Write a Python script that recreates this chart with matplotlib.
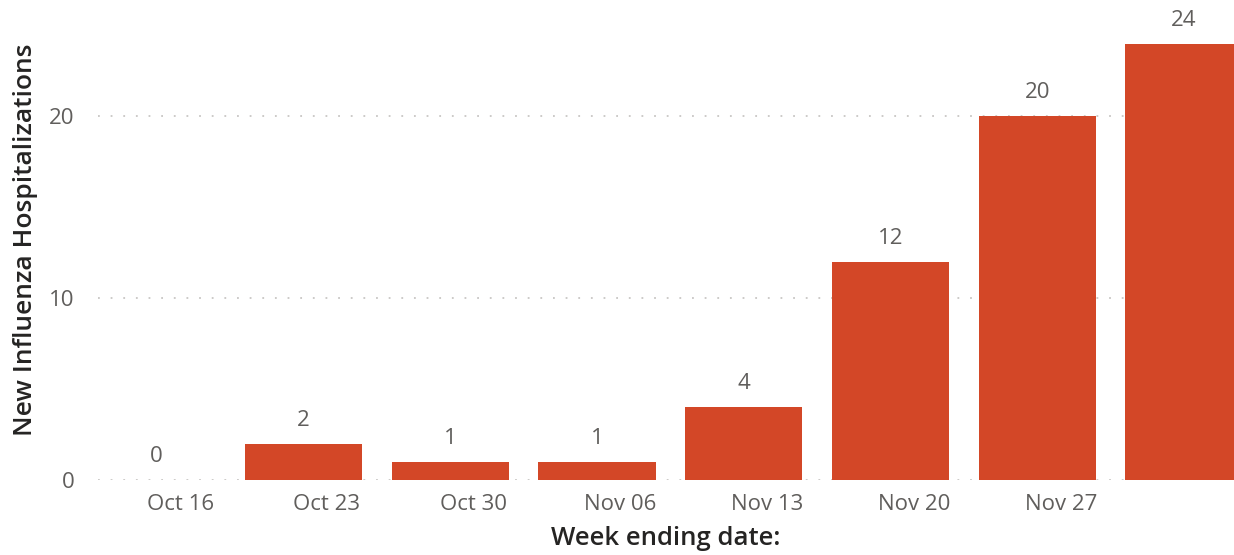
import matplotlib.pyplot as plt

weeks = ['Oct 16', 'Oct 23', 'Oct 30', 'Nov 06', 'Nov 13', 'Nov 20', 'Nov 27', 'Dec 04']
hospitalizations = [0, 2, 1, 1, 4, 12, 20, 24]
tick_labels = ['Oct 16', 'Oct 23', 'Oct 30', 'Nov 06', 'Nov 13', 'Nov 20', 'Nov 27']

bar_color = '#D34727'
label_color = '#605E5C'
title_color = '#252423'

plt.rcParams['font.family'] = ['Open Sans', 'DejaVu Sans']

fig = plt.figure(figsize=(12.34, 5.55), dpi=100)
ax = fig.add_axes([0.0794, 0.1351, 0.9206, 0.8649])

x = list(range(len(weeks)))
ax.bar(x, hospitalizations, width=0.8, color=bar_color, zorder=2)

for xi, v in zip(x, hospitalizations):
    ax.annotate(str(v), (xi, v), xytext=(0, 17), textcoords='offset points',
                ha='center', va='center', fontsize=16, color=label_color)

ax.set_xlim(-0.4, 7.34)
ax.set_ylim(0, 26.4)
ax.set_yticks([0, 10, 20])
ax.set_xticks([i + 0.16 for i in range(len(tick_labels))])
ax.set_xticklabels(tick_labels)
ax.tick_params(axis='both', length=0, labelsize=16, labelcolor=label_color)
ax.tick_params(axis='x', pad=10)
ax.tick_params(axis='y', pad=17)

ax.yaxis.grid(True, linestyle=(0, (1, 6)), color='#C8C6C4', linewidth=1.3, zorder=0)
ax.set_axisbelow(True)
for s in ax.spines.values():
    s.set_visible(False)

ax.set_xlabel('Week ending date:', fontsize=18.5, fontweight='semibold', color=title_color, labelpad=8)
ax.set_ylabel('New Influenza Hospitalizations', fontsize=19, fontweight='semibold', color=title_color, labelpad=8)

fig.savefig('out.png', dpi=100)
